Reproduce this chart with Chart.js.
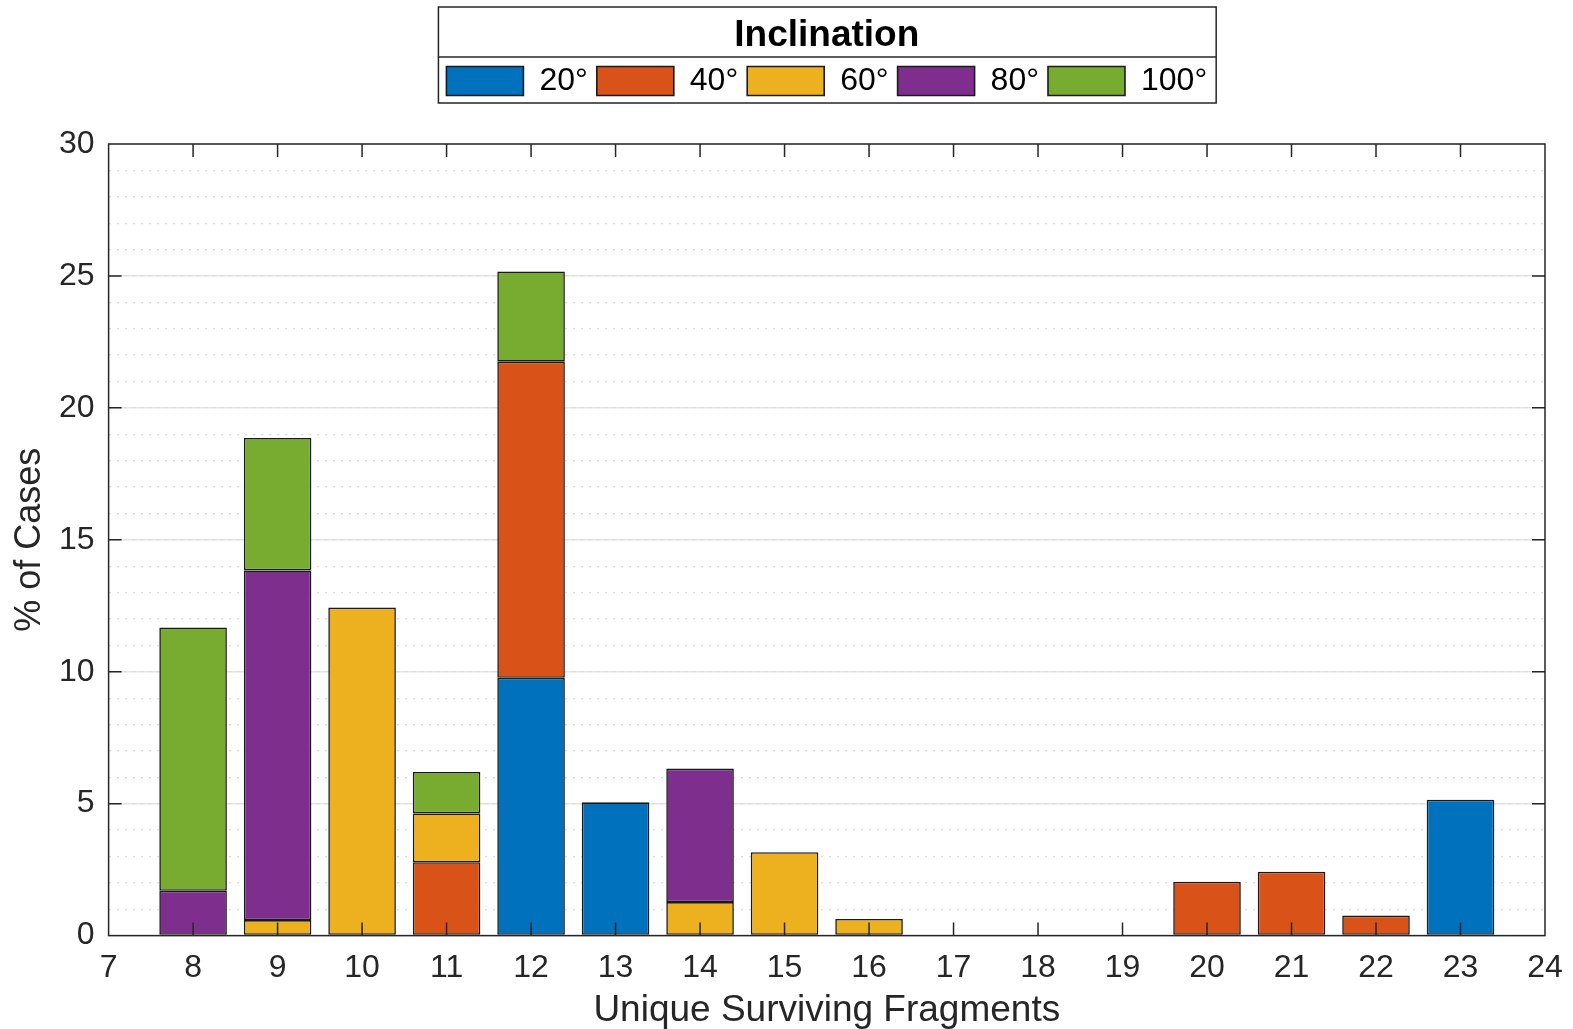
<!DOCTYPE html>
<html>
<head>
<meta charset="utf-8">
<script src="https://cdn.jsdelivr.net/npm/chart.js@4/dist/chart.umd.min.js"></script>
<style>
  html, body { margin: 0; padding: 0; background: #fff; }
  #wrap { width: 1573px; height: 1029px; }
</style>
</head>
<body>
<div id="wrap"><canvas id="c" width="1573" height="1029"></canvas></div>
<script>
// categories (unique surviving fragments)
const fragments = [8, 9, 10, 11, 12, 13, 14, 15, 16, 17, 18, 19, 20, 21, 22, 23];
// % of cases per inclination
const inc20  = [0, 0, 0, 0, 9.77, 5.05, 0, 0, 0, 0, 0, 0, 0, 0, 0, 5.15];
const inc40  = [0, 0, 0, 2.78, 11.98, 0, 0, 0, 0, 0, 0, 0, 2.04, 2.42, 0.76, 0];
const inc60  = [0, 0.59, 12.43, 1.85, 0, 0, 1.27, 3.16, 0.63, 0, 0, 0, 0, 0, 0, 0];
const inc80  = [1.70, 13.25, 0, 0, 0, 0, 5.06, 0, 0, 0, 0, 0, 0, 0, 0, 0];
const inc100 = [9.98, 5.02, 0, 1.57, 3.42, 0, 0, 0, 0, 0, 0, 0, 0, 0, 0, 0];

const seriesLabels = ['20°', '40°', '60°', '80°', '100°'];
const seriesColors = ['#0072BD', '#D95319', '#EDB120', '#7E2F8E', '#77AC30'];
const seriesValues = [inc20, inc40, inc60, inc80, inc100];

const FONT = "'Liberation Sans', Arial, Helvetica, sans-serif";

const datasets = seriesValues.map((vals, i) => ({
  label: seriesLabels[i],
  data: fragments.map((f, j) => ({ x: f, y: vals[j] })),
  backgroundColor: seriesColors[i],
  borderColor: '#1a1a1a',
  borderWidth: 1.6,
  borderSkipped: false,
  barPercentage: 0.8,
  categoryPercentage: 1.0
}));

// cadre de la légende + cadre du graphe + ticks intérieurs
const boxPlugin = {
  id: 'boxPlugin',
  afterDraw(chart) {
    const ctx = chart.ctx;
    const a = chart.chartArea;
    const xs = chart.scales.x, ys = chart.scales.y;
    ctx.save();
    ctx.strokeStyle = '#262626';
    ctx.lineWidth = 1.5;
    ctx.strokeRect(a.left, a.top, a.right - a.left, a.bottom - a.top);
    ctx.beginPath();
    for (let v = 8; v <= 23; v++) {
      const px = xs.getPixelForValue(v);
      ctx.moveTo(px, a.bottom); ctx.lineTo(px, a.bottom - 13);
      ctx.moveTo(px, a.top); ctx.lineTo(px, a.top + 13);
    }
    for (let v = 5; v <= 25; v += 5) {
      const py = ys.getPixelForValue(v);
      ctx.moveTo(a.left, py); ctx.lineTo(a.left + 13, py);
      ctx.moveTo(a.right, py); ctx.lineTo(a.right - 13, py);
    }
    ctx.stroke();

    // légende
    const hb = chart.legend.legendHitBoxes;
    if (hb && hb.length) {
      const l = Math.min(...hb.map(h => h.left)) - 8;
      const r = Math.max(...hb.map(h => h.left + h.width)) + 9;
      const itemTop = Math.min(...hb.map(h => h.top));
      const itemBot = Math.max(...hb.map(h => h.top + h.height));
      const top = 7;
      const bot = itemBot + 6;
      const div = itemTop - 8;
      ctx.strokeStyle = '#262626';
      ctx.lineWidth = 1.5;
      ctx.strokeRect(l, top, r - l, bot - top);
      ctx.beginPath();
      ctx.moveTo(l, div); ctx.lineTo(r, div);
      ctx.stroke();
    }
    ctx.restore();
  }
};

new Chart(document.getElementById('c'), {
  type: 'bar',
  data: { datasets: datasets },
  plugins: [boxPlugin],
  options: {
    responsive: false,
    animation: false,
    layout: { padding: { left: 12, right: 28, top: 0, bottom: 0 } },
    plugins: {
      tooltip: { enabled: false },
      // espace vide entre la légende et le graphe
      title: {
        display: true,
        text: '',
        weight: 500,
        font: { size: 1, lineHeight: 1 },
        padding: { top: 36, bottom: 0 }
      },
      legend: {
        position: 'top',
        fullSize: false,
        labels: {
          boxWidth: 77,
          boxHeight: 29,
          padding: 9,
          color: '#000',
          font: { family: FONT, size: 32 }
        },
        title: {
          display: true,
          text: 'Inclination',
          color: '#000',
          font: { family: FONT, size: 37, weight: 'bold', lineHeight: 1 },
          padding: { top: 17, bottom: 2 }
        }
      }
    },
    scales: {
      x: {
        type: 'linear',
        stacked: true,
        min: 7,
        max: 24,
        offset: false,
        grid: { display: false, drawTicks: false },
        border: { display: false },
        ticks: {
          stepSize: 1,
          color: '#262626',
          padding: 9,
          font: { family: FONT, size: 32, lineHeight: 1.5 }
        },
        title: {
          display: true,
          text: 'Unique Surviving Fragments',
          color: '#262626',
          font: { family: FONT, size: 37, lineHeight: 1 },
          padding: { top: -9.6, bottom: 0 }
        }
      },
      y: {
        stacked: true,
        min: 0,
        max: 30,
        grid: { color: '#e3e3e3', lineWidth: 1.5, drawTicks: false },
        border: { display: false },
        ticks: {
          stepSize: 5,
          color: '#262626',
          padding: 14,
          font: { family: FONT, size: 32 }
        },
        title: {
          display: true,
          text: '% of Cases',
          color: '#262626',
          font: { family: FONT, size: 36, lineHeight: 1 },
          padding: { top: 0, bottom: -3 }
        }
      },
      yMinor: {
        position: 'left',
        min: 0,
        max: 30,
        display: true,
        grid: { color: '#dcdcdc', lineWidth: 1.2, drawTicks: false },
        border: { display: false, dash: [2, 6] },
        ticks: { display: false, stepSize: 1 }
      }
    }
  }
});
</script>
</body>
</html>
